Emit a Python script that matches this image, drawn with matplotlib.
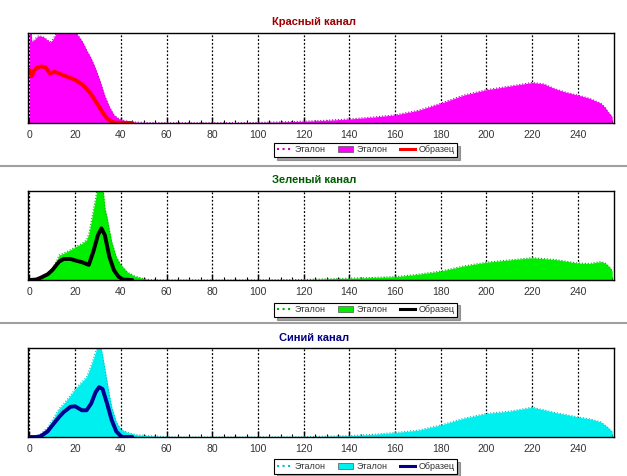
import matplotlib
matplotlib.use("Agg")
import matplotlib.pyplot as plt
from matplotlib.lines import Line2D
from matplotlib.patches import Patch
from matplotlib.ticker import MultipleLocator

plt.rcParams['font.family'] = ['Liberation Sans', 'DejaVu Sans']

# red channel
red_ref_x = [0, 0.7, 1, 2, 3, 4, 6, 8, 9, 10, 12, 14, 16, 18, 20, 22, 23.5, 25, 27, 29, 31, 33, 35, 37, 39,
             41, 44, 48, 55, 70, 90, 100, 110, 120, 130, 140, 150, 160, 170, 180, 190, 200, 210, 215, 220,
             225, 230, 235, 240, 245, 250, 252, 253, 254, 255]
red_ref_y = [110, 110, 91, 92, 95, 97, 96, 92, 90, 92, 101, 105, 106, 104, 101, 95, 89, 81, 72, 60, 46, 30, 18, 9, 5,
             3, 1.5, 0.8, 0.3, 0.2, 0.3, 0.6, 1.2, 2, 3, 4.5, 6.5, 9, 14, 22, 31, 37, 41, 43, 45,
             43.5, 38, 34, 31, 27.5, 22, 17, 13, 10, 7]
red_smp_x = [0, 1, 2, 3, 5, 7, 9, 11, 13, 15, 18, 20, 23, 25, 27, 29, 31, 33, 34, 36, 38, 45]
red_smp_y = [59, 52, 58, 61, 63, 62, 55, 57, 55, 53, 50, 48, 43, 38, 32, 24, 16, 8, 5, 1.5, 0.3, 0]

# green channel
green_ref_x = [0, 3, 5, 8, 10, 12, 13, 15, 18, 20, 23, 25, 26, 27, 28, 29, 30, 31, 32, 33, 34, 35, 36, 38,
               40, 43, 46, 50, 53, 60, 100, 120, 140, 150, 160, 170, 180, 190, 200, 210, 220, 230, 235,
               240, 245, 250, 252, 254, 255]
green_ref_y = [0, 1, 3.7, 8, 13, 22, 28, 30, 34, 37, 41, 45, 52, 65, 79, 92, 110, 115, 110, 81, 70, 56, 43, 26,
               17, 8.6, 4.5, 1.5, 0.3, 0, 0, 0.5, 2, 2.8, 3.7, 6.4, 10, 15.7, 20, 22.5, 25, 23, 21,
               19, 18.5, 20.6, 19, 14, 10]
green_smp_x = [0, 3, 5, 8, 10, 13, 15, 18, 20, 23, 26, 28, 30, 31.5, 33, 35, 37, 39, 41, 45]
green_smp_y = [0, 0.5, 2.6, 6.4, 11, 20.6, 23.6, 23.6, 22, 20, 17, 32, 50.5, 58, 50.5, 26, 11, 3.7, 0.5, 0]

# blue channel
blue_ref_x = [0, 3, 5, 8, 10, 13, 15, 18, 20, 23, 25, 27, 28, 29, 30, 31, 32, 33, 34, 35, 36, 38, 40, 43, 47,
              55, 60, 62, 100, 120, 140, 150, 160, 170, 180, 190, 200, 210, 220, 230, 240, 245, 250, 253, 255]
blue_ref_y = [0, 0.5, 3.7, 11, 19, 32, 37.5, 47, 54, 62, 67.4, 80.5, 88, 96, 104, 104, 92, 77, 62, 47, 34, 17, 8.6, 5, 2.5,
              1, 0.5, 0, 0, 0.3, 1.5, 3, 5, 7.6, 13.5, 21, 26.5, 29, 33.5, 27.5, 22.5, 20.5, 17, 11, 6]
blue_smp_x = [0, 3, 5, 8, 10, 13, 15, 18, 20, 23, 25, 27, 29, 30.5, 32, 34, 36, 38, 40, 41, 45]
blue_smp_y = [0, 0, 1, 6.4, 13, 22.5, 28, 34, 34.5, 30, 30, 37.5, 50.5, 56, 54, 37.5, 19, 6.4, 1, 0, 0]

titles = ['Красный канал', 'Зеленый канал', 'Синий канал']
title_colors = ['#9b0000', '#005a00', '#000080']
fill_colors = ['#ff00ff', '#00ee00', '#00f0f0']
edge_colors = ['#c000c0', '#00b000', '#00c0c0']
line_colors = ['#ff0000', '#000000', '#000090']
ref_x = [red_ref_x, green_ref_x, blue_ref_x]
ref_y = [red_ref_y, green_ref_y, blue_ref_y]
smp_x = [red_smp_x, green_smp_x, blue_smp_x]
smp_y = [red_smp_y, green_smp_y, blue_smp_y]

# axes boxes in figure fraction (left, bottom, width, height)
boxes = [(0.0447, 0.7416, 0.9346, 0.189),
         (0.0447, 0.4118, 0.9346, 0.187),
         (0.0447, 0.0819, 0.9346, 0.187)]
title_y = [0.954, 0.622, 0.290]
legend_y = [0.685, 0.349, 0.020]

fig = plt.figure(figsize=(6.27, 4.76), dpi=100)

for i in range(3):
    ax = fig.add_axes(boxes[i])
    ax.fill_between(ref_x[i], ref_y[i], 0, color=fill_colors[i], lw=0, zorder=2)
    ax.plot(ref_x[i], ref_y[i], color=edge_colors[i], lw=0.8, ls=':', zorder=3)
    ax.plot(smp_x[i], smp_y[i], color=line_colors[i], lw=2.8, zorder=4, solid_capstyle='round')
    ax.set_xlim(-0.6, 255.8)
    ax.set_ylim(0, 100)
    ax.set_yticks([])
    ax.xaxis.set_major_locator(MultipleLocator(20))
    ax.xaxis.set_minor_locator(MultipleLocator(5))
    ax.tick_params(axis='x', which='major', direction='in', length=4, width=1, labelsize=7.5,
                   labelcolor='#333333', pad=5)
    ax.tick_params(axis='x', which='minor', direction='in', length=2.5, width=0.8)
    ax.grid(axis='x', which='major', color='black', ls=(0, (1.5, 1.5)), lw=0.9, zorder=5)
    for s in ax.spines.values():
        s.set_linewidth(1.0)
        s.set_zorder(6)
    fig.text(0.501, title_y[i], titles[i], ha='center', va='center', fontsize=8,
             fontweight='bold', color=title_colors[i])
    handles = [Line2D([], [], color=edge_colors[i], ls=':', lw=1.5),
               Patch(facecolor=fill_colors[i], edgecolor='#555555', lw=0.5),
               Line2D([], [], color=line_colors[i], lw=2.2)]
    leg = fig.legend(handles, ['Эталон', 'Эталон', 'Образец'], loc='center', ncol=3,
                     bbox_to_anchor=(0.583, legend_y[i]), fontsize=6.5, frameon=True,
                     fancybox=False, shadow=True, edgecolor='black', handlelength=1.6,
                     handletextpad=0.4, columnspacing=1.4, borderpad=0.3, framealpha=1)
    leg.get_frame().set_linewidth(0.8)
    for t in leg.get_texts():
        t.set_color('#333333')

for yy in [1 - 166 / 476, 1 - 323 / 476]:
    fig.add_artist(Line2D([0, 1], [yy, yy], color='#a0a0a0', lw=1.5, transform=fig.transFigure))

fig.savefig('out.png', dpi=100, facecolor='white')
